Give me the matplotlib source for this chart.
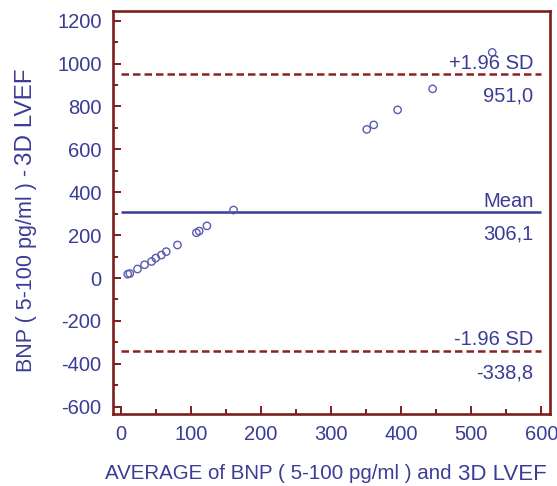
import numpy as np
import matplotlib
matplotlib.use('Agg')
from matplotlib import pyplot as plt
from matplotlib.ticker import MultipleLocator

# Bland-Altman: average vs difference
avg_vals = [10, 13, 24, 34, 44, 50, 58, 65, 81, 108, 112, 123, 161,
            351, 361, 395, 445, 530]
diff_vals = [18, 21, 42, 62, 77, 93, 107, 123, 154, 211, 219, 243, 317,
             693, 714, 784, 882, 1052]

mean_diff = 306.1
upper_loa = 951.0
lower_loa = -338.8

txt_col = '#3a3c96'
pt_col = '#5a5cae'
ax_col = '#7c1e1e'
sd_col = '#8b2222'

plt.rcParams['font.family'] = ['Liberation Sans', 'DejaVu Sans']
plt.rcParams['axes.unicode_minus'] = False

fig = plt.figure(figsize=(5.57, 4.86), dpi=100)
ax = fig.add_axes([112.7 / 557, 1 - 414 / 486, (549.7 - 112.7) / 557, (414 - 11) / 486])

ax.scatter(avg_vals, diff_vals, s=28, facecolors='none', edgecolors=pt_col, linewidths=1.0, zorder=3)

ax.hlines(mean_diff, 0, 600, colors=txt_col, linewidth=1.8, zorder=2)
ax.hlines([upper_loa, lower_loa], 0, 600, colors=sd_col, linewidth=1.8,
          linestyles=(0, (3, 1.6)), zorder=2)

lab_x = 589
for yv, top, bot in [(upper_loa, '+1.96 SD', '951,0'),
                     (mean_diff, 'Mean', '306,1'),
                     (lower_loa, '-1.96 SD', '-338,8')]:
    ax.annotate(top, (lab_x, yv), xytext=(0, 4), textcoords='offset points',
                ha='right', va='baseline', fontsize=14.5, color=txt_col)
    ax.annotate(bot, (lab_x, yv), xytext=(0, -9), textcoords='offset points',
                ha='right', va='top', fontsize=14.5, color=txt_col)

ax.set_xlim(-11.4, 612)
ax.set_ylim(-634, 1245)
ax.xaxis.set_major_locator(MultipleLocator(100))
ax.xaxis.set_minor_locator(MultipleLocator(50))
ax.yaxis.set_major_locator(MultipleLocator(200))
ax.yaxis.set_minor_locator(MultipleLocator(100))

for s in ax.spines.values():
    s.set_color(ax_col)
    s.set_linewidth(1.9)
ax.tick_params(which='major', direction='in', length=6, width=1.4, color=ax_col,
               labelcolor=txt_col, labelsize=14.5, pad=8)
ax.tick_params(which='minor', direction='in', length=3.5, width=1.4, color=ax_col)

# axis labels, with the bigger "3D LVEF" part
fig.text(105 / 557, 1 - 479 / 486, 'AVERAGE of BNP ( 5-100 pg/ml ) and',
         ha='left', va='baseline', fontsize=14.8, color=txt_col)
fig.text(547 / 557, 1 - 480 / 486, '3D LVEF',
         ha='right', va='baseline', fontsize=16, color=txt_col)
fig.text(32 / 557, 1 - 372 / 486, 'BNP ( 5-100 pg/ml ) -', rotation=90,
         rotation_mode='anchor', ha='left', va='baseline', fontsize=15.5, color=txt_col)
fig.text(32 / 557, 1 - 68 / 486, '3D LVEF', rotation=90,
         rotation_mode='anchor', ha='right', va='baseline', fontsize=17.5, color=txt_col)

fig.savefig('out.png', dpi=100)
